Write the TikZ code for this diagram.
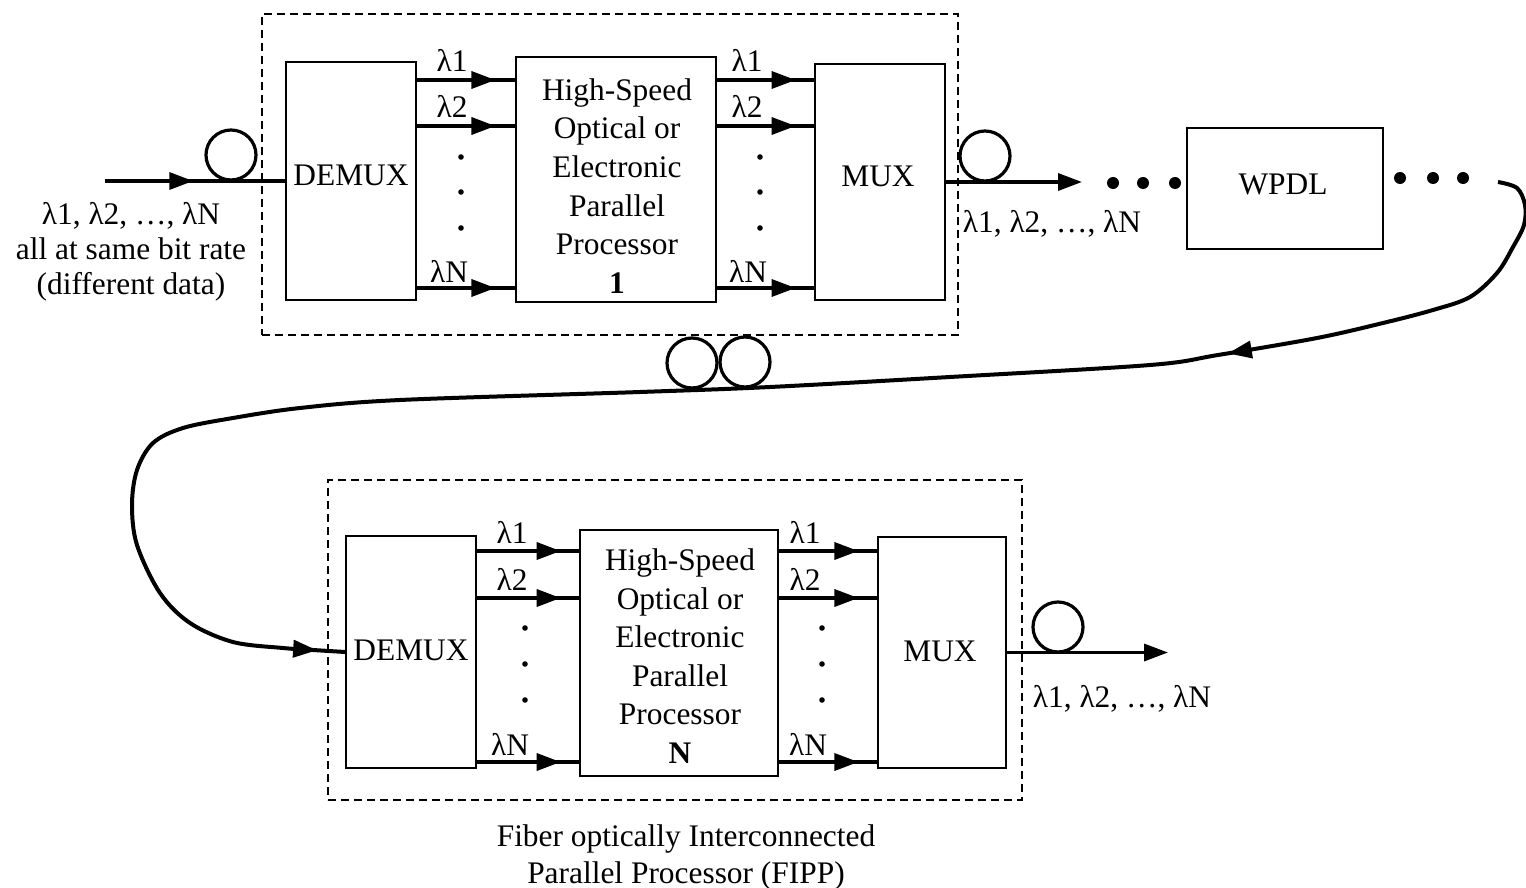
\documentclass[tikz,border=0pt]{standalone}
\usepackage{fontspec}
\setmainfont{Liberation Serif}
\usetikzlibrary{arrows.meta,decorations.markings}
\begin{document}
\begin{tikzpicture}[x=0.5pt,y=-0.5pt,
  every node/.style={font=\fontsize{15.7}{19.3}\selectfont, inner sep=0pt},
  tri/.tip={Triangle[length=12pt,width=8.5pt]},
  box/.style={draw, line width=0.9pt},
  frame/.style={draw, dash pattern=on 4pt off 2.5pt, line width=0.8pt},
  chan/.style={line width=1.7pt},
  midarrow/.style={postaction={decorate,decoration={markings,mark=at position #1 with {\arrow{tri}}}}},
  loopc/.style={circle, draw, line width=1.6pt, minimum size=25pt},
  bigdot/.style={circle, fill, minimum size=6pt},
  smalldot/.style={circle, fill, minimum size=2.8pt},
  lab/.style={anchor=base},
  multi/.style={align=center, anchor=north}
]
\path[use as bounding box] (0,0) rectangle (1526,888);

% ---------- frames ----------
\node[frame, minimum width=348pt, minimum height=160.5pt] (f1) at (610,174.5) {};
\node[frame, minimum width=347pt, minimum height=160pt] (f2) at (675,640) {};

% ---------- boxes (top) ----------
\node[box, minimum width=65pt, minimum height=119pt] (d1) at (351,181) {};
\node[box, minimum width=100pt, minimum height=122.5pt] (p1) at (616,179.5) {};
\node[box, minimum width=65pt, minimum height=118pt] (m1) at (880,182) {};
\node[box, minimum width=98pt, minimum height=60.5pt] (w1) at (1285,188.5) {};
\node (d1t) at (351,175) {DEMUX};
\node (m1t) at (878,176) {MUX};
\node (w1t) at (1283,184) {WPDL};
\node[align=center] (p1t) at (617,186) {High-Speed\\Optical or\\Electronic\\Parallel\\Processor\\\textbf{1}};

% ---------- boxes (bottom) ----------
\node[box, minimum width=65pt, minimum height=116pt] (d2) at (411,652) {};
\node[box, minimum width=99pt, minimum height=123pt] (p2) at (679,653) {};
\node[box, minimum width=64pt, minimum height=115.5pt] (m2) at (942,652.5) {};
\node (d2t) at (411,650) {DEMUX};
\node (m2t) at (940,651) {MUX};
\node[align=center] (p2t) at (680,656) {High-Speed\\Optical or\\Electronic\\Parallel\\Processor\\\textbf{N}};

% ---------- channel levels ----------
\coordinate (ya) at (0,80);
\coordinate (yb) at (0,126);
\coordinate (yc) at (0,288);
\coordinate (za) at (0,551);
\coordinate (zb) at (0,598);
\coordinate (zc) at (0,762);

% top channels
\draw[chan, midarrow=0.80] (d1.east |- ya) -- (p1.west |- ya);
\draw[chan, midarrow=0.80] (d1.east |- yb) -- (p1.west |- yb);
\draw[chan, midarrow=0.80] (d1.east |- yc) -- (p1.west |- yc);
\draw[chan, midarrow=0.81] (p1.east |- ya) -- (m1.west |- ya);
\draw[chan, midarrow=0.81] (p1.east |- yb) -- (m1.west |- yb);
\draw[chan, midarrow=0.81] (p1.east |- yc) -- (m1.west |- yc);
% bottom channels
\draw[chan, midarrow=0.82] (d2.east |- za) -- (p2.west |- za);
\draw[chan, midarrow=0.82] (d2.east |- zb) -- (p2.west |- zb);
\draw[chan, midarrow=0.82] (d2.east |- zc) -- (p2.west |- zc);
\draw[chan, midarrow=0.81] (p2.east |- za) -- (m2.west |- za);
\draw[chan, midarrow=0.81] (p2.east |- zb) -- (m2.west |- zb);
\draw[chan, midarrow=0.81] (p2.east |- zc) -- (m2.west |- zc);

% channel labels
\node[lab] (l1a) at (452,72) {λ1};
\node[lab] (l1b) at (452,118) {λ2};
\node[lab] (l1c) at (449,282) {λN};
\node[lab] (r1a) at (747,72) {λ1};
\node[lab] (r1b) at (747,118) {λ2};
\node[lab] (r1c) at (748,282) {λN};
\node[lab] (l2a) at (512,543) {λ1};
\node[lab] (l2b) at (512,590) {λ2};
\node[lab] (l2c) at (510,755) {λN};
\node[lab] (r2a) at (805,543) {λ1};
\node[lab] (r2b) at (805,590) {λ2};
\node[lab] (r2c) at (808,755) {λN};

% vertical dots
\foreach \i/\y in {1/157,2/192,3/228}{
  \node[smalldot] (dl\i) at (461,\y) {};
  \node[smalldot] (dr\i) at (760,\y) {};
}
\foreach \i/\y in {1/628,2/664,3/700}{
  \node[smalldot] (el\i) at (525,\y) {};
  \node[smalldot] (er\i) at (822,\y) {};
}

% ---------- input ----------
\coordinate (in) at (105,181);
\draw[chan, midarrow=0.49] (in) -- (d1.west);
\node[loopc] (c1) at (231,155) {};
\node[multi, font=\fontsize{15.7}{17.5}\selectfont] (inl) at (131,202) {λ1, λ2, …, λN\\all at same bit rate\\(different data)};

% ---------- output 1 ----------
\coordinate (o1) at (1082,182);
\draw[chan, -{tri}] (m1.east) -- (o1);
\node[loopc] (c2) at (985,156) {};
\node[lab] (o1l) at (1052,232) {λ1, λ2, …, λN};
\foreach \i/\x in {1/1113,2/1143,3/1175}{\node[bigdot] (ba\i) at (\x,183) {};}
\foreach \i/\x in {1/1400,2/1433,3/1463}{\node[bigdot] (bb\i) at (\x,178) {};}

% ---------- fiber loop ----------
\coordinate (cs) at (1498,182);
\draw[line width=2pt, postaction={decorate,decoration={markings,
    mark=at position 200pt with {\arrow{tri}},
    mark=at position -14pt with {\arrow{tri}}}}]
  plot[smooth, tension=0.55] coordinates {(cs) (1517,188) (1525,205) (1524,225) (1513,247) (1497,273) (1470,297) (1433,310) (1383,323) (1317,338) (1218,355) (1150,365) (950,377) (770,387) (640,392) (400,400) (300,408) (233,418) (183,428) (153,443) (137,470) (132,505) (137,545) (160,593) (190,623) (233,642) (283,648) (313,650) (d2.west)};
\node[loopc] (c3) at (692,363) {};
\node[loopc] (c4) at (745,362) {};

% ---------- output 2 ----------
\coordinate (o2) at (1168,652.5);
\draw[chan, -{tri}] (m2.east) -- (o2);
\node[loopc] (c5) at (1058,627) {};
\node[lab] (o2l) at (1122,707) {λ1, λ2, …, λN};

% ---------- caption ----------
\node[multi, font=\fontsize{15.7}{18.5}\selectfont] (cap) at (686,824) {Fiber optically Interconnected\\Parallel Processor (FIPP)};
\end{tikzpicture}
\end{document}
